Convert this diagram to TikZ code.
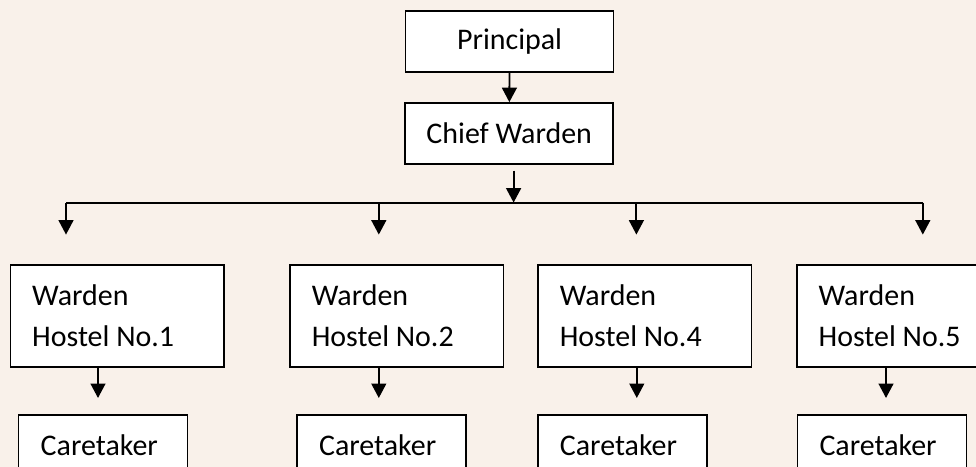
\documentclass[tikz,border=0pt]{standalone}
\usepackage{fontspec}
\setmainfont{Carlito}
\usetikzlibrary{arrows.meta}

\definecolor{bgbeige}{RGB}{249,241,234}

\begin{document}
\begin{tikzpicture}

    \fill[bgbeige] (0,0) rectangle (24.4,11.675);
    \useasboundingbox (0,0) rectangle (24.4,11.675);
    \clip (0,0) rectangle (24.4,11.675);

        \begin{scope}[every node/.style={draw,fill=white,line width=1.1pt,font=\fontsize{21.3}{29.2}\selectfont},
                      topbox/.style={minimum width=5.2cm,minimum height=1.525cm},
                      wardenbox/.style={text width=4.25cm,inner xsep=0.54cm,align=flush left,minimum height=2.55cm},
                      carebox/.style={text width=3.125cm,inner xsep=0.55cm,align=flush left,minimum height=1.525cm}]
            \node[topbox] (principal) at (12.74,10.64) {Principal};
            \node[topbox] (chief) at (12.73,8.34) {Chief Warden};

            \node[wardenbox] (w1) at (2.93,3.775) {Warden\\Hostel No.1};
            \node[wardenbox] (w2) at (9.92,3.775) {Warden\\Hostel No.2};
            \node[wardenbox] (w4) at (16.12,3.775) {Warden\\Hostel No.4};
            \node[wardenbox] (w5) at (22.59,3.775) {Warden\\Hostel No.5};

            \node[carebox] (c1) at (2.58,0.5375) {Caretaker};
            \node[carebox] (c2) at (9.54,0.5375) {Caretaker};
            \node[carebox] (c4) at (15.56,0.5375) {Caretaker};
            \node[carebox] (c5) at (22.05,0.5375) {Caretaker};
        \end{scope}

        % tips and the bar
        \coordinate (hub) at (12.84,6.61);
        \coordinate (d1) at (1.65,5.81);
        \coordinate (d2) at (9.47,5.81);
        \coordinate (d4) at (15.91,5.81);
        \coordinate (d5) at (23.07,5.81);
        \coordinate (t1) at (2.45,1.725);
        \coordinate (t2) at (9.47,1.725);
        \coordinate (t4) at (15.92,1.725);
        \coordinate (t5) at (22.15,1.725);

        \begin{scope}[every path/.style={line width=1.3pt}, arr/.style={-{Triangle[width=0.37cm,length=0.36cm]}}]
            \draw[arr] (principal) -- (chief);
            \draw[arr] ([yshift=-0.15cm]chief.south -| hub) -- (hub);

            \draw (d1 |- hub) -- (d5 |- hub);
            \draw[arr] (d1 |- hub) -- (d1);
            \draw[arr] (d2 |- hub) -- (d2);
            \draw[arr] (d4 |- hub) -- (d4);
            \draw[arr] (d5 |- hub) -- (d5);

            \draw[arr] (w1.south -| t1) -- (t1);
            \draw[arr] (w2.south -| t2) -- (t2);
            \draw[arr] (w4.south -| t4) -- (t4);
            \draw[arr] (w5.south -| t5) -- (t5);
        \end{scope}

    \end{tikzpicture}
\end{document}
